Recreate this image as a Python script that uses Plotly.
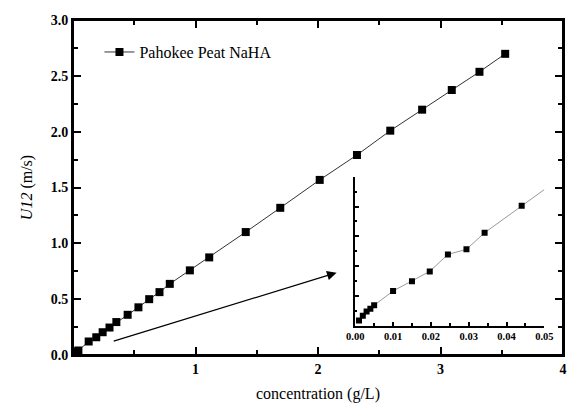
import plotly.graph_objects as go

# ---- main series (g/L, m/s) ----
conc_main = [0.001, 0.002, 0.003, 0.004, 0.005, 0.01, 0.015, 0.0197, 0.0245, 0.0294, 0.0342, 0.044,
             0.128, 0.19, 0.242, 0.298, 0.354, 0.446, 0.534, 0.622, 0.706, 0.79, 0.954, 1.112,
             1.41, 1.692, 2.014, 2.318, 2.59, 2.85, 3.092, 3.318, 3.528]
u_main = [0.0017, 0.0033, 0.0047, 0.0056, 0.0068, 0.0116, 0.0149, 0.0182, 0.0239, 0.0256, 0.0312, 0.0403,
          0.121, 0.159, 0.204, 0.246, 0.295, 0.36, 0.427, 0.5, 0.563, 0.637, 0.758, 0.874,
          1.101, 1.318, 1.568, 1.791, 2.009, 2.197, 2.373, 2.536, 2.697]

# ---- inset series ----
conc_inset = [0.001, 0.002, 0.003, 0.004, 0.005, 0.01, 0.015, 0.0197, 0.0245, 0.0294, 0.0342, 0.044]
u_inset = [0.0017, 0.0033, 0.0047, 0.0056, 0.0068, 0.0116, 0.0149, 0.0182, 0.0239, 0.0256, 0.0312, 0.0403]
inset_line_end_x = [0.044, 0.05]
inset_line_end_y = [0.0403, 0.0457]

main_xticks = [1, 2, 3, 4]
main_xticklabels = ["1", "2", "3", "4"]
inset_xticks = [0.0, 0.01, 0.02, 0.03, 0.04, 0.05]
inset_xticklabels = ["0.00", "0.01", "0.02", "0.03", "0.04", "0.05"]

SERIF = "Liberation Serif"

fig = go.Figure()
fig.add_trace(go.Scatter(
    x=conc_main, y=u_main, mode="lines+markers", name="Pahokee Peat NaHA",
    line=dict(color="#333333", width=1),
    marker=dict(symbol="square", size=8, color="black"),
    xaxis="x", yaxis="y"))
fig.add_trace(go.Scatter(
    x=conc_inset + inset_line_end_x[1:], y=u_inset + inset_line_end_y[1:], mode="lines",
    line=dict(color="#999999", width=1), showlegend=False, xaxis="x2", yaxis="y2"))
fig.add_trace(go.Scatter(
    x=conc_inset, y=u_inset, mode="markers", showlegend=False,
    marker=dict(symbol="square", size=6, color="black"), xaxis="x2", yaxis="y2"))

fig.add_annotation(x=2.152, y=0.737, ax=0.32, ay=0.12, xref="x", yref="y", axref="x", ayref="y",
                   showarrow=True, arrowhead=2, arrowsize=1.6, arrowwidth=1.2, arrowcolor="black", text="")

# frame around the main plot area
fig.add_shape(type="rect", xref="x domain", yref="y domain", x0=0, y0=0, x1=1, y1=1,
              line=dict(color="black", width=2), fillcolor="rgba(0,0,0,0)", layer="above")

axis_common = dict(showline=True, linecolor="black", linewidth=2, ticks="inside",
                   tickcolor="black", tickwidth=2, showgrid=False, zeroline=False)
xminor = dict(dtick=0.5, ticklen=5, tickwidth=2, tickcolor="black", ticks="inside")
yminor = dict(dtick=0.25, ticklen=5, tickwidth=2, tickcolor="black", ticks="inside")

fig.update_layout(
    width=573, height=407,
    margin=dict(l=73, r=1, t=20, b=52),
    paper_bgcolor="white", plot_bgcolor="white",
    font=dict(family=SERIF, color="black"),
    showlegend=True,
    legend=dict(x=0.054, y=0.955, xanchor="left", yanchor="top", bgcolor="rgba(0,0,0,0)",
                font=dict(family=SERIF, size=16, color="black")),
    xaxis=dict(domain=[0, 1], range=[0, 4], ticklen=8, mirror="ticks",
               tickmode="array", tickvals=main_xticks, ticktext=main_xticklabels,
               minor=xminor,
               tickfont=dict(family=SERIF, size=14, weight="bold"),
               title=dict(text="concentration (g/L)", font=dict(family=SERIF, size=16), standoff=12),
               **axis_common),
    yaxis=dict(domain=[0, 1], range=[0, 3], ticklen=8, dtick=0.5, tickformat=".1f", mirror="ticks",
               minor=yminor,
               tickfont=dict(family=SERIF, size=14, weight="bold"),
               title=dict(text="<i>U12</i> (m/s)", font=dict(family=SERIF, size=16), standoff=14),
               **axis_common),
    xaxis2=dict(domain=[0.576, 0.962], anchor="y2", range=[0, 0.05], ticklen=4,
                tickmode="array", tickvals=inset_xticks, ticktext=inset_xticklabels,
                minor=dict(dtick=0.005, ticklen=2.5, tickwidth=1.5, tickcolor="black", ticks="inside"),
                tickfont=dict(family=SERIF, size=10.5, weight="bold"),
                showline=True, linecolor="black", linewidth=1.5, ticks="inside",
                tickcolor="black", tickwidth=1.5, showgrid=False, zeroline=False),
    yaxis2=dict(domain=[0.088, 0.532], anchor="x2", range=[0, 0.05], dtick=0.01, ticklen=4,
                showticklabels=False,
                minor=dict(dtick=0.005, ticklen=2.5, tickwidth=1.5, tickcolor="black", ticks="inside"),
                showline=True, linecolor="black", linewidth=1.5, ticks="inside",
                tickcolor="black", tickwidth=1.5, showgrid=False, zeroline=False),
)

fig.write_html("out.html")
